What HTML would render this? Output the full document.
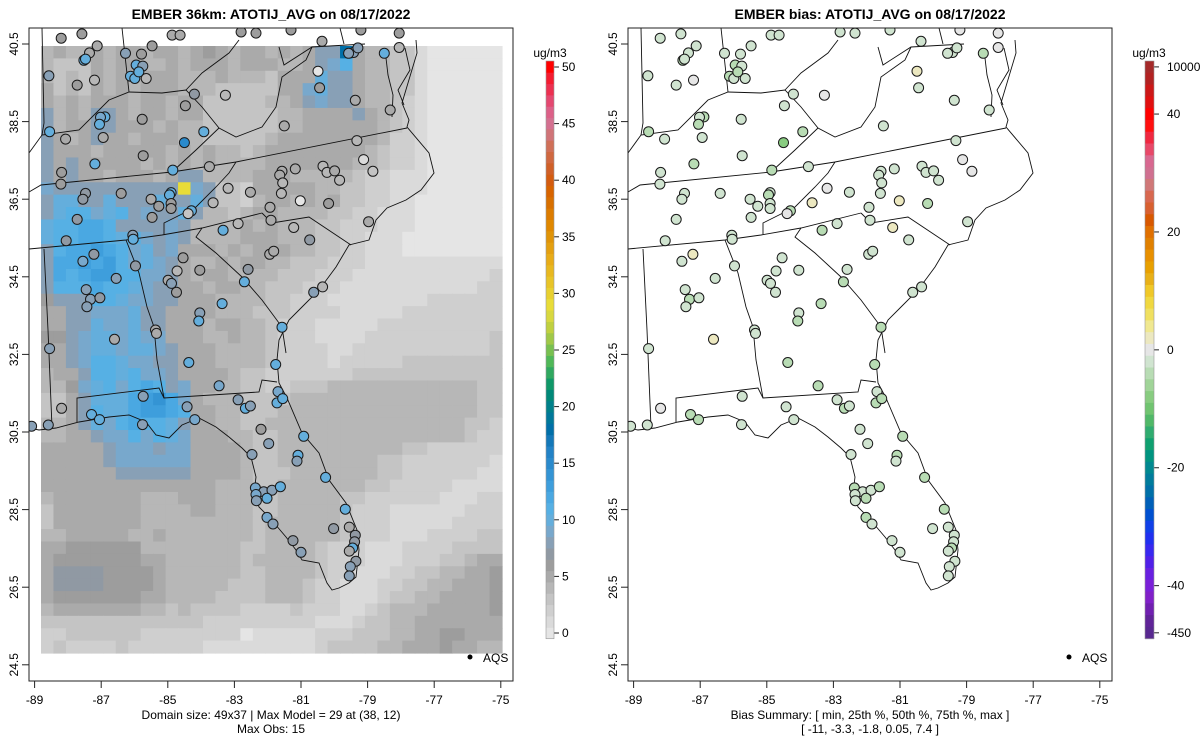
<!DOCTYPE html>
<html><head><meta charset="utf-8"><style>
html,body{margin:0;padding:0;background:#fff;}
svg{display:block;font-family:"Liberation Sans",Arial,sans-serif;}
</style></head><body>
<svg id="fig" width="1200" height="750" viewBox="0 0 1200 750" xmlns="http://www.w3.org/2000/svg">
<text x="271" y="19" text-anchor="middle" font-size="14" font-weight="bold">EMBER 36km: ATOTIJ_AVG on 08/17/2022</text>
<text x="870" y="19" text-anchor="middle" font-size="14" font-weight="bold">EMBER bias: ATOTIJ_AVG on 08/17/2022</text>
<g id="leftPanel"></g>
<g id="rightPanel"></g>
<text x="271" y="719" text-anchor="middle" font-size="12">Domain size: 49x37 | Max Model = 29 at (38, 12)</text>
<text x="271" y="733" text-anchor="middle" font-size="12">Max Obs: 15</text>
<text x="870" y="719" text-anchor="middle" font-size="12">Bias Summary: [ min, 25th %, 50th %, 75th %, max ]</text>
<text x="870" y="733" text-anchor="middle" font-size="12">[ -11,   -3.3,   -1.8,   0.05,   7.4 ]</text>
</svg>
<script>
// ---- data ----
const xTicks = [-89,-87,-85,-83,-81,-79,-77,-75];
const yTicks = [24.5,26.5,28.5,30.5,32.5,34.5,36.5,38.5,40.5];
const modelTicks = [0,5,10,15,20,25,30,35,40,45,50];
const biasTickLabels = ["10000","40","20","0","-20","-40","-450"];
const biasTickValues = [48,40,20,0,-20,-40,-48];
const modelGrid = [
"454454554554565455454588i544331000000",
"433354554454555455544589b544331000000",
"4343545455544454443555a88544331000000",
"5343545455544433333559a88544331000000",
"5454555455455333334458988544321000000",
"8454885455455333333445555854321000000",
"8455885554544333333445555554321000000",
"8545855455544333334555555554221000000",
"8555455555454544345555555543221000000",
"8585555545454544445555555443221000000",
"8585545554588444455544444322111000000",
"98888888888t9833255555443322111000000",
"8aa88a888a88a833245545453322110000000",
"8abb9ab8988a8443455444433221110000000",
"abbccb8888984444545444332221110000000",
"abbccbab98984444555444332211100000000",
"8bccdcb9a8955545455544332211100000000",
"8ccdcdb9a9854454554433322211111111111",
"8cbcddbb99854554444333222111111111112",
"8bbbcbba98855455443332221111111111122",
"6888bba9988555444433222111111112222222",
"5588999a88555544433322221111122222222",
"5588a99a88555455443222111112222222222",
"6689aa9a99555445443222111122222222223",
"5589aa9aa9855544443222211222222222223",
"5589bba998855544443222212222233333333",
"4558bbab99855554332222222333333333333",
"4469ab9bcb895544332233344444444444433",
"3358aaacdec95444333344444444444444433",
"3358baacddcb5544333444444444444444433",
"4458a9bcbba85544334444444444444444332",
"4455899b9ba95554433444444444444444322",
"5555589998995555433444444444433222222",
"5555589999995555433444444443322222221",
"5555558888885555433344444443322222211",
"5555555555555544433444444433222221111",
"4555555544455544433444443322222211122",
"3555555544445544433444443222111111222",
"3555555544444444434444443222111112222",
"4455555445444444434444443222111222233",
"5566666644444444334444322211122223333",
"5666666655444444344444322211122233455",
"5777766665444444334444322111223344556",
"5777766665444443334443221112233445556",
"5666666655444433334443221112334455556",
"4555555544343333222232221123444555556",
"3333333333333222222222111233445555555",
"2233333322222222011111222333445566555",
"2322223222222111111111233334455565544"
];
const siteLon = [-87.12,-87.35,-87.52,-87.47,-86.27,-85.79,-85.47,-85.95,-85.75,-86.12,-85.99,-85.87,-85.65,-88.57,-87.72,-87.2,-84.2,-84.47,-83.27,-86.89,-87.02,-87.05,-85.77,-86.94,-88.55,-88.07,-83.92,-84.5,-85.74,-81.5,-80.44,-80.49,-79.37,-78.32,-78.05,-78.5,-79.42,-79.29,-79.57,-80.37,-79.32,-79.12,-78.84,-80.34,-80.22,-79.99,-79.84,-81.17,-81.57,-81.64,-81.55,-81.59,-81.02,-80.17,-82.52,-83.19,-83.64,-83.75,-84.85,-84.29,-84.39,-84.9,-84.95,-84.9,-84.9,-85.27,-85.47,-85.5,-86.4,-87.19,-88.19,-88.21,-87.47,-87.55,-87.72,-88.05,-86.05,-86.04,-87.22,-87.55,-85.97,-86.55,-87.45,-87.32,-87.04,-87.43,-84.54,-84.72,-84.04,-84.99,-84.89,-84.74,-83.34,-82.89,-81.93,-81.9,-81.94,-81.82,-81.22,-80.74,-82.59,-82.7,-83.37,-84.04,-84.07,-85.37,-85.34,-86.6,-88.55,-81.57,-80.62,-80.35,-78.97,
-88.2,-87.58,-84.87,-84.63,-82.8,-82.35,-81.3,-79.2,-78.05,
-84.37,-81.76,-83.46,-85.74,-84.42,-82.89,-82.67,-82.52,-81.69,-81.72,-81.55,-88.19,-87.29,-87.05,-88.59,-89.09,-85.76,-84.19,-82.2,-81.97,-80.92,-82.47,-81.09,-81.12,-80.26,-82.37,-82.12,-81.87,-81.62,-82.35,-82.02,-82.34,-79.67,-82.02,-81.84,-80.02,-79.55,-79.37,-79.39,-79.45,-79.55,-79.35,-79.52,-79.55,-81.24,-81.0];
const siteLat = [40.45,40.27,40.08,40.11,40.26,40.24,40.45,39.96,39.93,39.67,39.61,39.78,39.61,39.68,39.44,39.57,39.21,38.91,39.18,38.62,38.61,38.43,38.56,38.09,38.24,38.05,38.24,37.96,37.62,38.39,39.37,39.8,39.05,38.8,40.41,40.26,40.28,40.4,40.26,40.57,38.01,37.52,37.22,37.35,37.19,37.23,36.99,37.28,37.22,37.12,36.92,36.65,36.46,36.39,36.68,36.78,36.41,37.34,37.25,36.2,36.13,36.67,36.61,36.39,36.26,36.32,36.03,36.5,36.65,37.41,37.19,36.89,36.65,36.5,35.98,35.43,35.57,35.47,35.08,34.9,34.78,34.46,34.17,33.92,33.96,33.73,34.99,34.65,34.67,34.41,34.33,34.1,35.7,35.87,36.29,35.96,35.08,35.16,35.77,35.45,34.69,34.37,33.81,33.57,33.36,33.13,33.04,32.89,32.65,33.2,34.1,34.24,35.92,
40.65,40.76,40.73,40.73,40.81,40.78,40.86,40.86,40.78,
32.29,32.24,31.69,31.42,31.15,31.33,31.11,31.17,31.54,31.25,31.36,31.11,30.95,30.82,30.68,30.65,30.69,30.82,30.57,30.2,30.39,29.92,29.9,29.75,29.33,29.06,28.96,29.0,29.09,28.89,28.79,28.73,28.51,28.3,28.13,28.01,28.05,27.84,27.67,27.51,27.43,27.17,27.03,26.79,27.7,27.4];
const siteObs = [5,5,10,10,8,6,6,10,8,10,10,10,4,8,6,4,7,6,4,10,9,10,6,5,10,5,10,15,6,5,6,0,5,5,4,10,8,8,8,5,4,1,3,4,4,5,4,5,5,5,4,4,0,6,5,4,4,5,10,10,3,10,10,6,6,6,6,5,6,10,6,6,7,7,7,7,8,10,7,9,7,8,8,8,7,8,6,4,6,5,8,6,10,4,5,5,5,5,4,7,7,10,10,8,10,5,5,5,8,10,8,4,5,
6,6,5,5,6,6,6,6,6,
10,10,9,8,8,8,10,8,9,10,10,5,10,10,8,8,8,9,6,8,10,8,10,8,10,9,8,8,10,9,10,8,10,9,8,7,5,7,7,10,5,7,8,8,7,8];
const siteBias = [-1,-2,-3,-2,-2,-1,-1,-3,-2,-3,-2,-3,-1,-2,-1,0,-2,-1,0,-3,-2,-3,-1,-1,-3,-1,-3,-8,-2,-1,-2,3,-1,-1,1,-3,-2,-2,-2,-1,-2,0,0,-1,-2,-1,-1,-1,-2,-2,-1,-1,2,-3,-1,0,2,-1,-3,-3,0,-2,-3,-1,-2,-1,-1,-1,-1,-3,-1,-2,-2,-2,-1,-2,-1,-2,2,-1,-2,-2,-2,-3,-2,-2,-2,-1,-2,-1,-2,-2,-3,-1,-1,-1,-1,-2,2,-2,-2,-3,-3,-2,-3,-1,-1,2,-1,-3,-2,-1,-1,
-1,-2,-1,-1,-1,-1,-1,0,1,
-3,-3,-3,-2,-2,-2,-3,-2,-2,-3,-3,0,-3,-3,-2,-2,-2,-2,-2,-2,-3,-2,-3,-2,-3,-3,-2,-2,-3,-2,-3,-2,-3,-3,-2,-2,-1,-2,-2,-3,-1,-2,-2,-2,-1,-2];

// ---- colours ----
const modelColors = ["#e5e5e5","#dadada","#cfcfcf","#c4c4c4","#b7b7b7","#aaaaaa","#9d9d9d","#9099a3","#88a0b6","#78a8cc","#64aedc","#56b0e4","#4aa8e2","#3e9edc","#3494d4","#2a8acc","#2282c6","#1478b8","#006fa8","#00789a","#00808a","#008878","#109868","#30a860","#50b858","#78c050","#a0c848","#c0d040","#d8d840","#e8dc38","#e8d030","#e8c428","#e8b820","#e8ac18","#e4a010","#e09408","#e08800","#dc7c00","#d87000","#d86400","#d45c10","#d06028","#d06840","#d07058","#d07478","#d47090","#dc6088","#e44870","#ec3050","#f41c30","#ff0000"];
const biasColors = ["#a52a2a","#b22222","#cc1818","#e01010","#ff0000","#ff1010","#f02840","#e84868","#d86890","#d07090","#d07878","#d86850","#d86030","#d85800","#e07000","#e08000","#e89000","#e8a000","#e8b018","#f0c828","#f0d840","#f0e060","#f0e890","#ece8c0","#e6e6e6","#d0e4d0","#b8dcb4","#a0d498","#88cc80","#70c470","#50b868","#30ac70","#10a070","#009480","#008890","#007c9c","#0070a8","#0060b8","#0050d0","#1040e8","#2030f0","#3828f0","#5020e8","#6820e0","#7a20d8","#8020c8","#7020b0","#602498","#582890"];

// ---- geometry ----
const NS = "http://www.w3.org/2000/svg";
const BOX = {l:29, r:513, t:28, b:681};
const GRID = {l:41, r:502, t:46, b:653};
function xs(lon, off){ return off + 34.6 + (lon + 89) * 33.3; }
function ys(lat){ return 44 + (40.5 - lat) * 38.8; }
function mk(tag, attrs, parent){
  const e = document.createElementNS(NS, tag);
  for (const k in attrs) e.setAttribute(k, attrs[k]);
  parent.appendChild(e); return e;
}
const outlines = [
 [[416,40],[417,53],[402,103],[409,120],[407,127],[429,153],[434,173],[421,190],[406,200],[387,208],[376,220],[369,240],[349,245],[336,267],[319,290],[302,307],[289,320],[279,340],[277,360],[279,383],[287,398],[302,433],[319,453],[329,480],[346,503],[357,530],[359,550],[356,577],[349,583],[339,588],[332,590],[327,583],[319,563],[302,560],[296,550],[286,537],[269,517],[259,507],[254,493],[256,477],[251,457],[242,448],[229,437],[216,427],[199,418],[182,425],[169,438],[156,435],[146,422],[129,415],[109,417],[79,422],[56,428],[39,430],[29,428]],
 [[386,58],[388,75],[393,95],[392,117]],[[405,48],[410,70],[398,90],[404,105]],
 [[29,192],[41,185],[172,172],[236,162],[407,128]],
 [[29,249],[126,240],[162,235],[202,228],[262,213]],
 [[262,213],[272,223],[309,217],[351,245]],
 [[202,228],[196,237],[216,253],[242,277],[262,300],[282,327],[286,353]],
 [[236,162],[229,173],[216,187],[196,207],[176,217],[164,223],[164,235]],
 [[126,240],[139,273],[147,307],[154,327],[157,360],[164,398],[259,392],[262,380],[277,382]],
 [[77,422],[77,398],[159,388],[164,398]],
 [[44,249],[48,330],[52,427]],
 [[29,153],[42,135],[79,130],[109,100],[129,92],[162,93],[186,90],[202,107],[219,128],[236,137],[262,127],[276,107],[282,77],[306,60],[312,47]],
 [[219,128],[196,150],[172,172]],
 [[186,90],[202,73],[229,53],[239,40]],
 [[122,28],[129,92]],[[42,28],[44,123],[42,135]],
 [[279,47],[284,65],[312,47],[365,44]],[[340,28],[344,44]]
];
function drawPanel(g, off, isBias){
  const clipId = "clip" + off;
  const cp = mk("clipPath",{id:clipId}, g);
  mk("rect",{x:BOX.l+off,y:BOX.t,width:BOX.r-BOX.l,height:BOX.b-BOX.t}, cp);
  const inner = mk("g",{"clip-path":"url(#"+clipId+")"}, g);
  if(!isBias){
    const cw=(GRID.r-GRID.l)/37, ch=(GRID.b-GRID.t)/49;
    modelGrid.forEach((row,r)=>{
      for(let c=0;c<37;c++){
        const ch1=row.charAt(c); if(!ch1) continue;
        const v=parseInt(ch1,36);
        const rc=mk("rect",{x:(GRID.l+off+c*cw).toFixed(2),y:(GRID.t+r*ch).toFixed(2),width:(cw+0.6).toFixed(2),height:(ch+0.6).toFixed(2),fill:modelColors[Math.min(50,v)]}, inner);
        
        
      }
    });
  }
  outlines.forEach(line=>{
    const p=mk("polyline",{points:line.map(q=>(q[0]+off)+","+q[1]).join(" "),fill:"none",stroke:"#111","stroke-width":"0.9"}, inner);
    
    
  });
  for(let i=0;i<siteLon.length;i++){
    let fill;
    if(isBias){ let k=Math.round(24 - siteBias[i]/2); k=Math.max(0,Math.min(48,k)); fill=biasColors[k]; }
    else fill=modelColors[Math.max(0,Math.min(50,siteObs[i]))];
    const c=mk("circle",{cx:xs(siteLon[i],off).toFixed(1),cy:ys(siteLat[i]).toFixed(1),r:"5",fill:fill,stroke:"#1a1a1a","stroke-width":"1"}, inner);
    
    
  }
  const bx=mk("rect",{x:BOX.l+off,y:BOX.t,width:BOX.r-BOX.l,height:BOX.b-BOX.t,fill:"none",stroke:"#222","stroke-width":"1"}, g);
  
  
  xTicks.forEach(t=>{
    const x=xs(t,off);
    mk("line",{x1:x,y1:BOX.b,x2:x,y2:BOX.b+7,stroke:"#222"}, g);
    const tx=mk("text",{x:x,y:BOX.b+23,"text-anchor":"middle","font-size":"12"}, g);
    tx.textContent=String(t);
    
    
  });
  yTicks.forEach(t=>{
    const y=ys(t);
    mk("line",{x1:BOX.l+off-7,y1:y,x2:BOX.l+off,y2:y,stroke:"#222"}, g);
    const tx=mk("text",{x:0,y:0,"text-anchor":"middle","font-size":"12",transform:"translate("+(BOX.l+off-11)+","+y+") rotate(-90)"}, g);
    tx.textContent=t.toFixed(1);
    
    
  });
  const ld=mk("circle",{cx:470+off,cy:657,r:"2.5",fill:"#000"}, g);
  
  
  const lt=mk("text",{x:483+off,y:662,"font-size":"12"}, g);
  lt.textContent="AQS";
  
  
  const cb=mk("g",{}, g);
  
  
  const bx0 = isBias ? 1145 : 546;
  const top=61, bot=638.7;
  if(!isBias){
    const h=(bot-top)/51;
    for(let v=0;v<51;v++) mk("rect",{x:bx0,y:(bot-(v+1)*h).toFixed(2),width:8,height:(h+0.4).toFixed(2),fill:modelColors[v]}, cb);
    modelTicks.forEach(v=>{
      const y=633-v*11.32;
      mk("line",{x1:bx0+8,y1:y,x2:bx0+13,y2:y,stroke:"#222"}, cb);
      const t=mk("text",{x:bx0+16,y:y+4,"font-size":"12"}, cb); t.textContent=String(v);
    });
  } else {
    const h=(bot-top)/49;
    for(let k=0;k<49;k++) mk("rect",{x:bx0,y:(top+k*h).toFixed(2),width:9,height:(h+0.4).toFixed(2),fill:biasColors[k]}, cb);
    biasTickValues.forEach((v,i)=>{
      const k=24-v/2; const y=top+(k+0.5)*h;
      mk("line",{x1:bx0+9,y1:y,x2:bx0+14,y2:y,stroke:"#222"}, cb);
      const t=mk("text",{x:bx0+22,y:y+4,"font-size":"12"}, cb); t.textContent=biasTickLabels[i];
    });
  }
  mk("rect",{x:bx0,y:top,width:isBias?9:8,height:bot-top,fill:"none",stroke:"#999","stroke-width":"0.6"}, cb);
  const ut=mk("text",{x:bx0+4,y:57,"text-anchor":"middle","font-size":"12"}, cb);
  ut.textContent="ug/m3";
  
  
}
drawPanel(document.getElementById("leftPanel"), 0, false);
drawPanel(document.getElementById("rightPanel"), 599, true);
</script>
</body></html>
